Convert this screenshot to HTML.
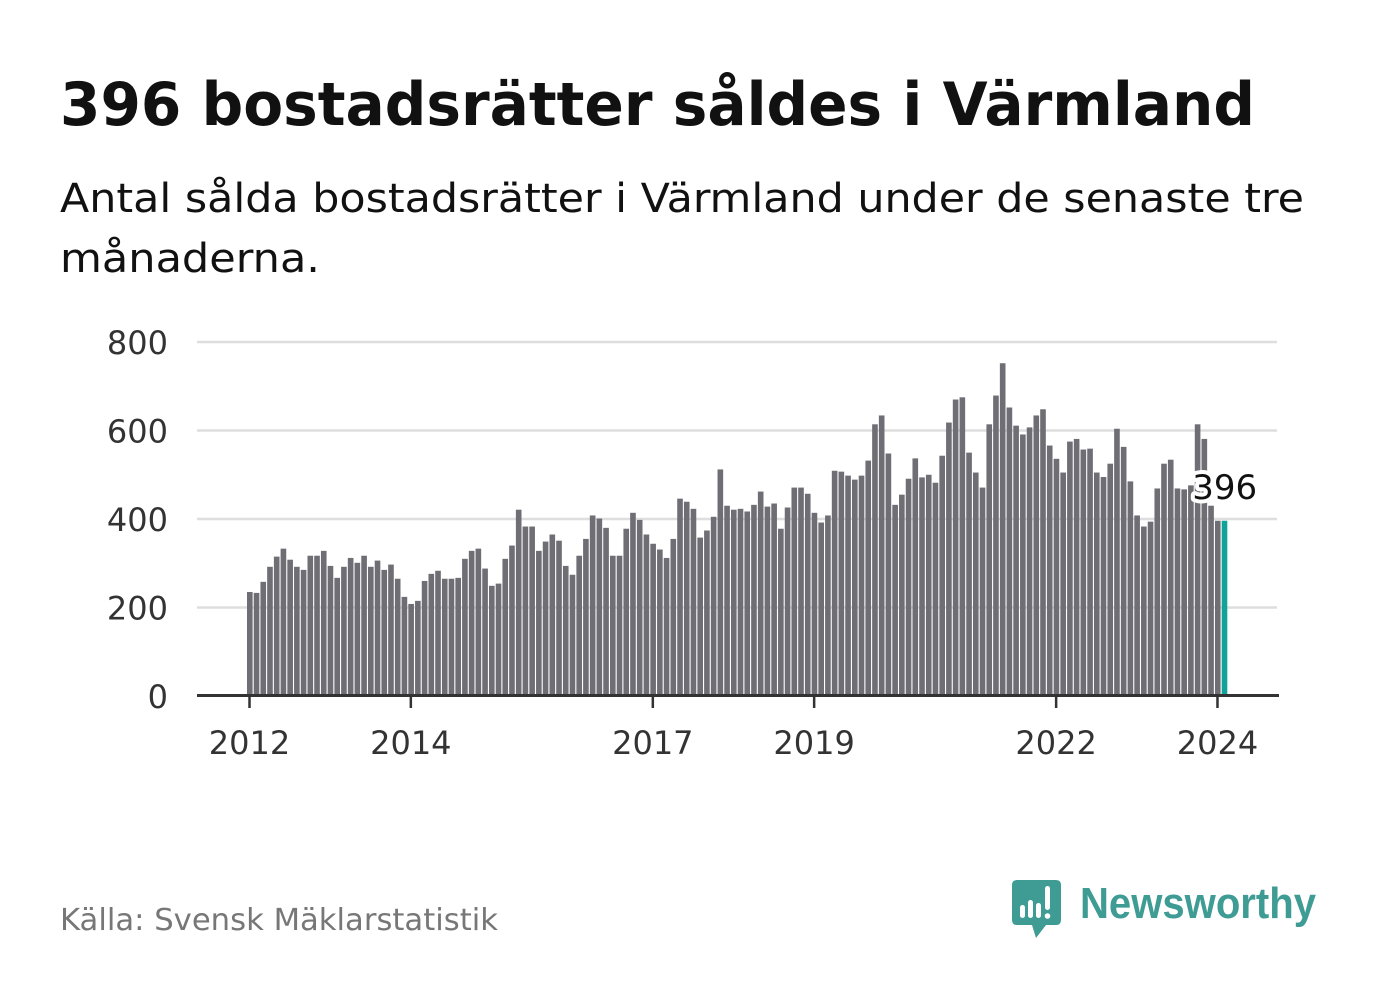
<!DOCTYPE html>
<html><head><meta charset="utf-8">
<style>
html,body{margin:0;padding:0;background:#fff;}
svg text{font-family:"DejaVu Sans","Liberation Sans",sans-serif;}
</style></head>
<body>
<svg id="chart" width="1382" height="999" viewBox="0 0 1382 999" xmlns="http://www.w3.org/2000/svg">
<rect width="1382" height="999" fill="#fff"/>
<text x="60" y="125" font-size="60" font-weight="bold" fill="#111" textLength="1195" lengthAdjust="spacingAndGlyphs">396 bostadsrätter såldes i Värmland</text>
<text x="60" y="212" font-size="40" fill="#111" textLength="1244" lengthAdjust="spacingAndGlyphs">Antal sålda bostadsrätter i Värmland under de senaste tre</text>
<text x="60" y="272" font-size="40" fill="#111" textLength="260" lengthAdjust="spacingAndGlyphs">månaderna.</text>
<g id="grid"></g>
<g id="yaxis"></g>
<g id="bars"></g>
<g id="xaxis"></g>
<g id="annot"></g>
<text x="60" y="930" font-size="30" fill="#777" textLength="438" lengthAdjust="spacingAndGlyphs">Källa: Svensk Mäklarstatistik</text>
<g>
<path d="M1017 880 H1056 Q1061 880 1061 885 V920 Q1061 925 1056 925 H1046 L1036 938 L1032 925 H1017 Q1012 925 1012 920 V885 Q1012 880 1017 880 Z" fill="#3f9c94"/>
<rect x="1020" y="905" width="5" height="13" rx="2.5" fill="#fff"/>
<rect x="1028" y="900" width="5" height="18" rx="2.5" fill="#fff"/>
<rect x="1036" y="903" width="5" height="15" rx="2.5" fill="#fff"/>
<rect x="1045" y="886" width="5" height="24" rx="2.5" fill="#fff"/>
<circle cx="1047.5" cy="916" r="2.8" fill="#fff"/>
<text x="1080" y="918" font-size="44" font-weight="bold" fill="#3f9c94" textLength="236" lengthAdjust="spacingAndGlyphs" style="font-family:'Liberation Sans',sans-serif">Newsworthy</text>
</g>
</svg>
<script>
const values = [235,233,258,292,315,333,308,292,285,317,317,328,294,267,292,312,301,317,292,306,285,297,265,224,208,215,260,276,283,265,265,267,310,328,333,288,249,254,310,340,421,383,383,328,349,365,351,294,274,317,
355,408,401,380,317,317,378,414,398,365,344,331,312,355,446,439,423,358,374,405,512,430,421,423,417,432,462,428,435,378,426,471,471,457,414,392,408,509,507,498,489,498,532,614,634,548,432,
455,491,537,494,500,482,543,618,670,675,550,505,471,614,679,752,652,611,591,607,634,648,566,536,505,575,581,557,559,505,495,525,604,563,485,408,383,394,469,525,534,469,467,476,614,581,430,396,396];
const startYear = 2012;
const yTicks = [0,200,400,600,800];
const xTickYears = [2012,2014,2017,2019,2022,2024];
const highlightLabel = "396";

const NS = "http://www.w3.org/2000/svg";
const monthW = 6.722;
const x0 = 247;
function xScale(m){ return x0 + m*monthW; }
function yScale(v){ return 696 - v*(354/800); }
function mk(tag, attrs, parent){ const e=document.createElementNS(NS,tag); for(const k in attrs) e.setAttribute(k,attrs[k]); parent.appendChild(e); return e; }

const grid=document.getElementById('grid'), yaxis=document.getElementById('yaxis'), bars=document.getElementById('bars'), xaxis=document.getElementById('xaxis'), annot=document.getElementById('annot');
yTicks.forEach(t=>{
  if(t>0){ const l=mk('line',{x1:197,x2:1277,y1:yScale(t),y2:yScale(t),stroke:'#dedede','stroke-width':2.5},grid);
  
   }
  const tx=mk('text',{x:168,y:yScale(t)+12,'font-size':32,fill:'#333','text-anchor':'end'},yaxis);
  tx.textContent=t;
  
  
});
values.forEach((v,i)=>{
  const last = i===values.length-1;
  const r=mk('rect',{x:xScale(i),y:yScale(v),width:monthW-1.1,height:yScale(0)-yScale(v),fill:last?'#11a397':'#6f6e74'},bars);
  
  
});
const ax=mk('line',{x1:197,x2:1279,y1:695.5,y2:695.5,stroke:'#333','stroke-width':3},xaxis);


xTickYears.forEach(yr=>{
  const xm=xScale((yr-startYear)*12)+2.5;
  const tk=mk('line',{x1:xm,x2:xm,y1:695,y2:708,stroke:'#333','stroke-width':2.5},xaxis);
  
  
  const tx=mk('text',{x:xm,y:754,'font-size':32,fill:'#333','text-anchor':'middle'},xaxis);
  tx.textContent=yr;
  
  
});
const li=values.length-1;
const lx=xScale(li)+3, ly=yScale(values[li])-22;
const halo=mk('text',{x:lx,y:ly,'font-size':34,fill:'#fff',stroke:'#fff','stroke-width':8,'stroke-linejoin':'round','text-anchor':'middle'},annot);
halo.textContent=highlightLabel;


const lab=mk('text',{x:lx,y:ly,'font-size':34,fill:'#111','text-anchor':'middle'},annot);
lab.textContent=highlightLabel;


</script>
</body></html>
